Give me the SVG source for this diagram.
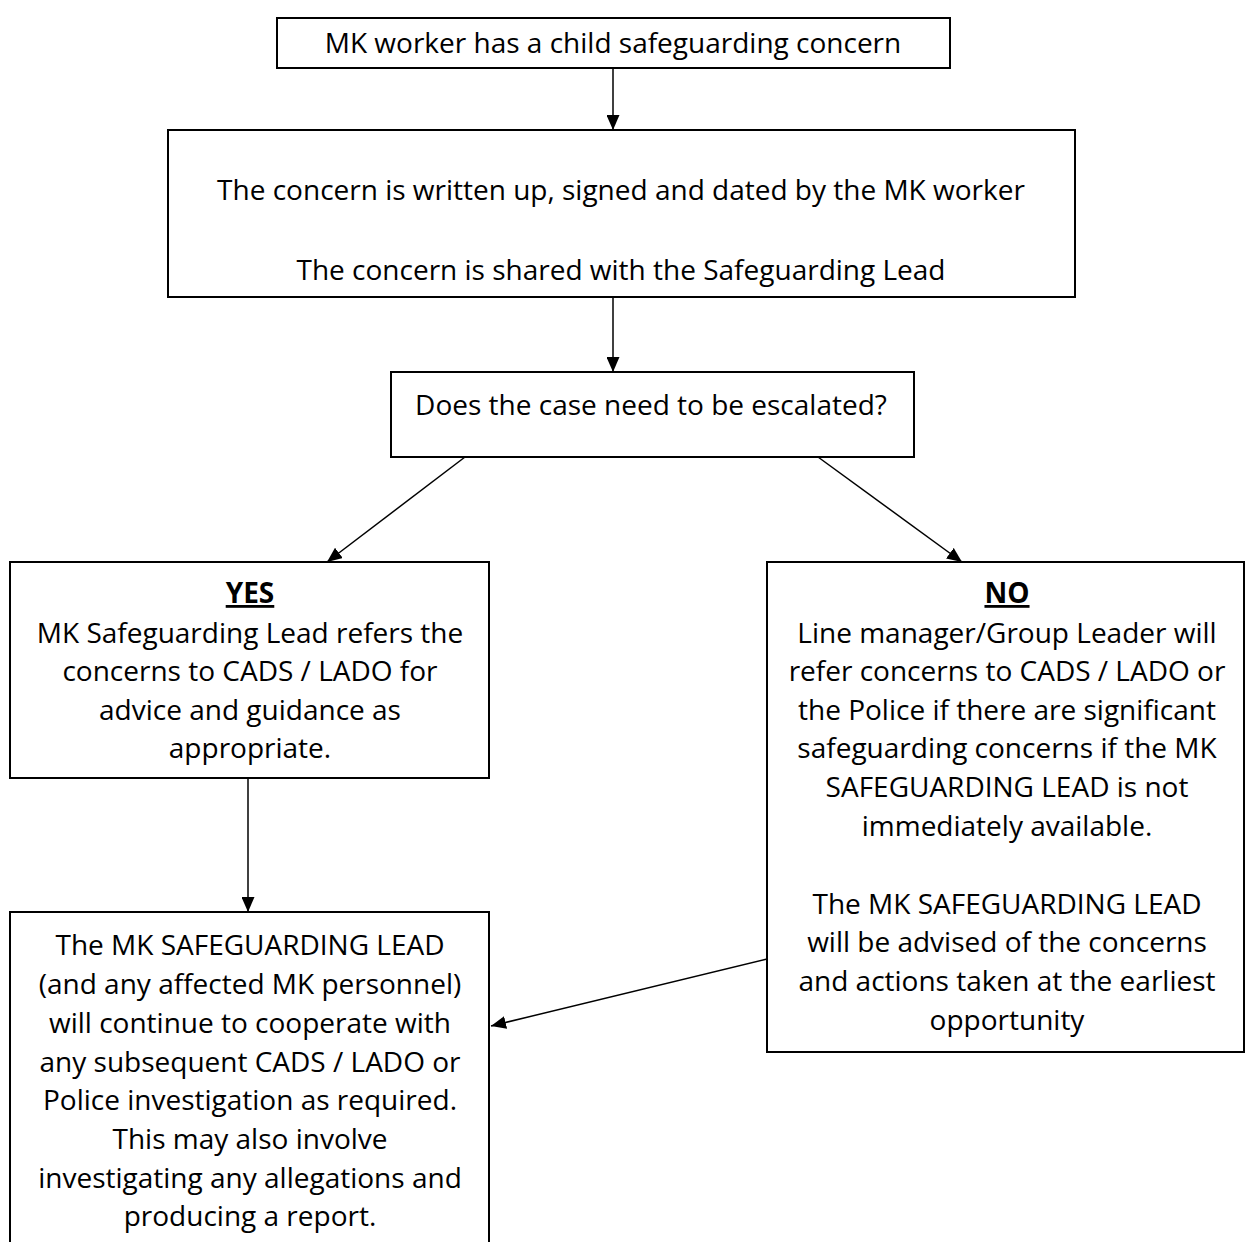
<svg xmlns="http://www.w3.org/2000/svg" width="1245" height="1242" viewBox="0 0 1245 1242">
<defs>
<marker id="ah" viewBox="0 0 15 13" refX="15" refY="6.5" markerWidth="15" markerHeight="13" markerUnits="userSpaceOnUse" orient="auto">
<path d="M0,0 L15,6.5 L0,13 Z" fill="#000"/>
</marker>
<style>
.box{fill:#fff;stroke:#000;stroke-width:2}
.t{font-family:"Open Sans","Noto Sans",sans-serif;font-size:28px;fill:#000;text-anchor:middle}
.h{font-weight:bold;text-decoration:underline}
.c{stroke:#000;stroke-width:1.5;fill:none;marker-end:url(#ah)}
</style>
</defs>
<rect width="1245" height="1242" fill="#fff"/>
<g id="connectors">
<line class="c" x1="613" y1="68" x2="613" y2="130"/>
<line class="c" x1="613" y1="297" x2="613" y2="372"/>
<line class="c" x1="465" y1="457" x2="327" y2="562"/>
<line class="c" x1="818" y1="457" x2="962" y2="562"/>
<line class="c" x1="248" y1="778" x2="248" y2="912"/>
<line class="c" x1="767" y1="959" x2="491" y2="1026"/>
</g>
<g id="n1">
<rect class="box" x="277" y="18" width="673" height="50"/>
<text class="t" x="613" y="53">MK worker has a child safeguarding concern</text>
</g>
<g id="n2">
<rect class="box" x="168" y="130" width="907" height="167"/>
<text class="t" x="621" y="200">The concern is written up, signed and dated by the MK worker</text>
<text class="t" x="621" y="280">The concern is shared with the Safeguarding Lead</text>
</g>
<g id="n3">
<rect class="box" x="391" y="372" width="523" height="85"/>
<text class="t" x="651" y="415">Does the case need to be escalated?</text>
</g>
<g id="yes">
<rect class="box" x="10" y="562" width="479" height="216"/>
<text class="t h" x="250" y="603">YES</text>
<text class="t" x="250" y="643">MK Safeguarding Lead refers the</text>
<text class="t" x="250" y="681">concerns to CADS / LADO for</text>
<text class="t" x="250" y="720">advice and guidance as</text>
<text class="t" x="250" y="758">appropriate.</text>
</g>
<g id="no">
<rect class="box" x="767" y="562" width="477" height="490"/>
<text class="t h" x="1007" y="603">NO</text>
<text class="t" x="1007" y="643">Line manager/Group Leader will</text>
<text class="t" x="1007" y="681">refer concerns to CADS / LADO or</text>
<text class="t" x="1007" y="720">the Police if there are significant</text>
<text class="t" x="1007" y="758">safeguarding concerns if the MK</text>
<text class="t" x="1007" y="797">SAFEGUARDING LEAD is not</text>
<text class="t" x="1007" y="836">immediately available.</text>
<text class="t" x="1007" y="914">The MK SAFEGUARDING LEAD</text>
<text class="t" x="1007" y="952">will be advised of the concerns</text>
<text class="t" x="1007" y="991">and actions taken at the earliest</text>
<text class="t" x="1007" y="1030">opportunity</text>
</g>
<g id="n6">
<rect class="box" x="10" y="912" width="479" height="340"/>
<text class="t" x="250" y="955">The MK SAFEGUARDING LEAD</text>
<text class="t" x="250" y="994">(and any affected MK personnel)</text>
<text class="t" x="250" y="1033">will continue to cooperate with</text>
<text class="t" x="250" y="1072">any subsequent CADS / LADO or</text>
<text class="t" x="250" y="1110">Police investigation as required.</text>
<text class="t" x="250" y="1149">This may also involve</text>
<text class="t" x="250" y="1188">investigating any allegations and</text>
<text class="t" x="250" y="1226">producing a report.</text>
</g>
</svg>
